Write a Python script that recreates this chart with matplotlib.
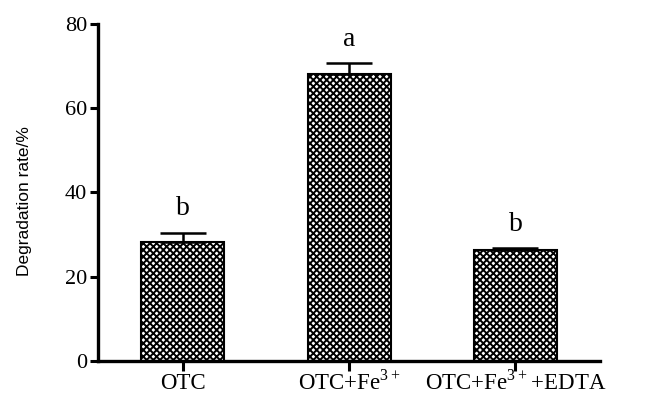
import matplotlib.pyplot as plt

# Degradation of OTC under different conditions
groups = ["OTC", r"OTC+Fe$^{\mathrm{3+}}$", r"OTC+Fe$^{\mathrm{3+}}$+EDTA"]
rates = [28.2, 68.2, 26.4]
errors = [2.2, 2.4, 0.3]
letters = ["b", "a", "b"]

plt.rcParams["font.family"] = "Liberation Serif"
plt.rcParams["mathtext.fontset"] = "custom"
plt.rcParams["mathtext.rm"] = "Liberation Serif"
plt.rcParams["hatch.linewidth"] = 1.4

fig = plt.figure(figsize=(6.67, 3.97), dpi=100)
ax = fig.add_axes([0.147, 0.091, 0.753, 0.849])

x = range(len(groups))
ax.bar(x, rates, width=0.5, color="white", edgecolor="black", linewidth=1.5,
       hatch="xxxxx", zorder=2)
ax.errorbar(x, rates, yerr=[[0] * 3, errors], fmt="none", ecolor="black",
            elinewidth=1.8, capsize=16.5, capthick=1.8, zorder=3)

for xi, r, e, lab in zip(x, rates, errors, letters):
    ax.text(xi, r + e + 2.8, lab, ha="center", va="bottom", fontsize=20)

ax.set_xlim(-0.51, 2.51)
ax.set_ylim(0, 80)
ax.set_yticks([0, 20, 40, 60, 80])
ax.set_xticks(list(x))
ax.set_xticklabels(groups, fontsize=16.5)
for lbl in ax.get_xticklabels():
    lbl.set_va("baseline")
ax.tick_params(axis="y", labelsize=16, width=2.2, length=6, pad=2)
ax.tick_params(axis="x", width=2.2, length=7, pad=13.5)

for side in ["top", "right"]:
    ax.spines[side].set_visible(False)
for side in ["left", "bottom"]:
    ax.spines[side].set_linewidth(2.4)

ax.set_ylabel("Degradation rate/%", fontsize=12.5, family="Liberation Sans")
ax.yaxis.set_label_coords(-0.131, 0.475)

fig.savefig("out.png", dpi=100)
